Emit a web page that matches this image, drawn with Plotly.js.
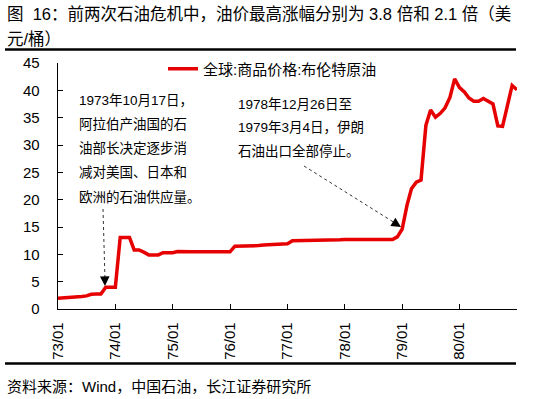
<!DOCTYPE html>
<html>
<head>
<meta charset="utf-8">
<script src="https://cdn.plot.ly/plotly-3.0.1.min.js"></script>
<style>html,body{margin:0;padding:0;background:#fff;}#chart{width:551px;height:399px;}</style>
</head>
<body>
<div id="chart"></div>
<script>
// Monthly Brent price (USD/bbl), 1973-01 .. 1981-01
const startYear = 1973;
const brentPrice = [
  1.95, 2.0, 2.1, 2.2, 2.25, 2.3, 2.4, 2.7, 2.75, 2.75, 4.0, 4.0,
  4.0, 13.1, 13.1, 13.1, 10.8, 10.8, 10.4, 9.9, 9.9, 9.9, 10.3, 10.3,
  10.3, 10.5, 10.45, 10.45, 10.45, 10.45, 10.45, 10.45, 10.45, 10.45, 10.45, 10.45,
  10.45, 11.5, 11.5, 11.5, 11.5, 11.5, 11.6, 11.7, 11.7, 11.8, 11.85, 11.9,
  11.95, 12.5, 12.5, 12.5, 12.5, 12.55, 12.6, 12.6, 12.6, 12.6, 12.6, 12.65,
  12.7, 12.7, 12.7, 12.7, 12.7, 12.7, 12.7, 12.7, 12.7, 12.7, 12.7, 13.2,
  14.6, 19.0, 22.0, 23.2, 23.6, 33.6, 36.4, 35.1, 35.8, 36.8, 38.7, 42.1,
  40.5, 39.7, 38.6, 38.0, 38.0, 38.5, 38.0, 37.5, 33.5, 33.4, 37.2, 40.9,
  40.1
];
const months = brentPrice.map((_, i) => {
  const y = startYear + Math.floor(i / 12);
  const m = (i % 12) + 1;
  return y + '-' + String(m).padStart(2, '0') + '-01';
});
const tickDates = ['1973-01-01','1974-01-01','1975-01-01','1976-01-01','1977-01-01','1978-01-01','1979-01-01','1980-01-01'];
const tickLabels = ['73/01','74/01','75/01','76/01','77/01','78/01','79/01','80/01'];
const seriesName = '全球:商品价格:布伦特原油';
const yTicks = [0,5,10,15,20,25,30,35,40,45];

const titleLine1 = '图&nbsp;&nbsp;16：前两次石油危机中，油价最高涨幅分别为 3.8 倍和 2.1 倍（美';
const titleLine2 = '元/桶）';
const sourceText = '资料来源：Wind，中国石油，长江证券研究所';
const note1 = ['1973年10月17日，','阿拉伯产油国的石','油部长决定逐步消','减对美国、日本和','欧洲的石油供应量。'];
const note2 = ['1978年12月26日至','1979年3月4日，伊朗','石油出口全部停止。'];

const FONT = 'Liberation Sans, Arial, Noto Sans CJK SC, sans-serif';
const W = 551, H = 399;
const L = 58, R = 34, T = 63, B = 90;
const pw = W - L - R, ph = H - T - B;
const px = x => (x - L) / pw;
const py = y => (H - B - y) / ph;

const annotations = [];
note1.forEach((t, i) => annotations.push({
  xref:'paper', yref:'paper', x: px(77), y: py(100 + i*24.3), xanchor:'left', yanchor:'middle',
  text:t, showarrow:false, font:{family:FONT, size:13.5, color:'#000'}
}));
note2.forEach((t, i) => annotations.push({
  xref:'paper', yref:'paper', x: px(236), y: py(104 + i*23.7), xanchor:'left', yanchor:'middle',
  text:t, showarrow:false, font:{family:FONT, size:13.5, color:'#000'}
}));
// arrow heads
function head(tipX, tipY, tailX, tailY) {
  const dx = tailX - tipX, dy = tailY - tipY, len = Math.hypot(dx, dy);
  annotations.push({
    xref:'paper', yref:'paper', x: px(tipX), y: py(tipY), ax: dx/len*9, ay: dy/len*9,
    text:'', showarrow:true, arrowhead:2, arrowsize:1.6, arrowwidth:1.2, arrowcolor:'#000', standoff:0
  });
}
head(105, 286, 103, 209);
head(401, 227, 304, 166);
// title & source
annotations.push({xref:'paper', yref:'paper', x: px(5), y: py(13.5), xanchor:'left', yanchor:'middle',
  text:titleLine1, showarrow:false, font:{family:FONT, size:16.5, color:'#000'}});
annotations.push({xref:'paper', yref:'paper', x: px(5), y: py(39), xanchor:'left', yanchor:'middle',
  text:titleLine2, showarrow:false, font:{family:FONT, size:16.5, color:'#000'}});
annotations.push({xref:'paper', yref:'paper', x: px(5), y: py(386.5), xanchor:'left', yanchor:'middle',
  text:sourceText, showarrow:false, font:{family:FONT, size:15, color:'#000'}});

const shapes = [
  {type:'line', xref:'paper', yref:'paper', x0:px(5), x1:px(516), y0:py(49.5), y1:py(49.5), line:{color:'#000', width:2.5}},
  {type:'line', xref:'paper', yref:'paper', x0:px(5), x1:px(516), y0:py(363.5), y1:py(363.5), line:{color:'#000', width:2.5}},
  {type:'line', xref:'paper', yref:'paper', x0:px(103), x1:px(105), y0:py(209), y1:py(280), line:{color:'#333', width:1, dash:'dot'}},
  {type:'line', xref:'paper', yref:'paper', x0:px(304), x1:px(395), y0:py(166), y1:py(223), line:{color:'#333', width:1, dash:'dot'}}
];

const trace = {
  x: months, y: brentPrice, type:'scatter', mode:'lines', name: seriesName,
  line:{color:'#e60000', width:3.5}
};

const layout = {
  width: W, height: H,
  margin:{l:L, r:R, t:T, b:B},
  paper_bgcolor:'#fff', plot_bgcolor:'#fff',
  font:{family:FONT, color:'#000'},
  showlegend:true,
  legend:{x: px(163), y: py(69), xanchor:'left', yanchor:'middle', bgcolor:'rgba(0,0,0,0)',
    font:{family:FONT, size:15, color:'#000'}},
  xaxis:{type:'date', range:['1973-01-01','1981-01-01'], tickvals:tickDates, ticktext:tickLabels,
    tickangle:-90, ticks:'inside', ticklen:5, tickcolor:'#000', tickwidth:1,
    showline:true, linecolor:'#000', linewidth:1.3, showgrid:false, zeroline:false,
    tickfont:{family:FONT, size:15, color:'#000'}, ticklabelstandoff:6},
  yaxis:{range:[0,45], tickvals:yTicks, ticks:'inside', ticklen:5, tickcolor:'#000', tickwidth:1,
    showline:true, linecolor:'#000', linewidth:1.3, showgrid:false, zeroline:false,
    tickfont:{family:FONT, size:15, color:'#000'}, ticklabelstandoff:14},
  annotations: annotations,
  shapes: shapes
};

Plotly.newPlot('chart', [trace], layout, {displayModeBar:false, staticPlot:true});
</script>
</body>
</html>
